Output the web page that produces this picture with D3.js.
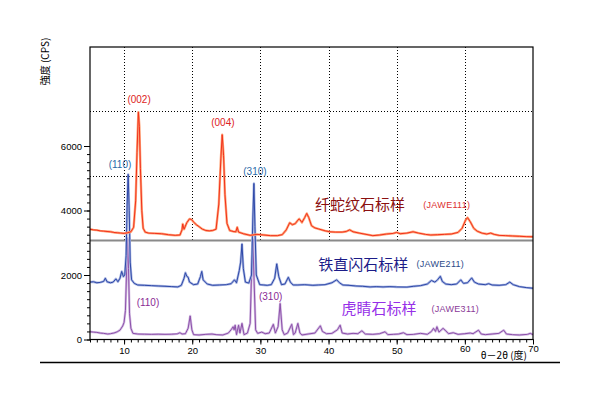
<!DOCTYPE html>
<html><head><meta charset="utf-8">
<script src="https://cdn.jsdelivr.net/npm/d3@7"></script>
<style>body{margin:0;background:#fff}</style>
</head><body><svg id="c" width="600" height="400"></svg>
<script>
// 2θ (deg) vs intensity (CPS), offset traces as plotted
const chrysotile = [[5.0,3420],[5.5,3400],[6,3390],[6.5,3370],[7,3360],[7.5,3350],[8,3340],[8.5,3320],[9,3310],[9.5,3300],[10,3290],[10.5,3310],[11,3340],[11.4,3480],[11.7,4300],[11.9,5800],[12.1,7050],[12.25,6600],[12.4,5300],[12.6,4000],[12.8,3450],[13.1,3330],[13.6,3300],[14.5,3290],[15.5,3280],[16.5,3250],[17.5,3230],[18.2,3240],[18.5,3400],[18.6,3580],[18.8,3420],[19.2,3620],[19.6,3740],[19.9,3720],[20.2,3640],[20.6,3560],[21,3500],[21.5,3420],[22,3380],[22.5,3370],[23,3380],[23.5,3420],[23.9,4200],[24.2,5600],[24.4,6350],[24.6,5700],[24.8,4500],[25.1,3600],[25.5,3380],[26,3350],[26.4,3340],[26.6,3480],[26.8,3330],[27.5,3280],[28.5,3230],[29.5,3260],[30.5,3240],[31.5,3220],[32.5,3220],[33.2,3250],[33.8,3400],[34.3,3620],[34.7,3560],[35.1,3590],[35.5,3700],[35.7,3740],[36.1,3630],[36.5,3780],[36.8,3910],[37.1,3780],[37.5,3530],[38,3460],[38.5,3430],[39.5,3370],[40.2,3340],[41,3330],[42,3330],[42.6,3350],[43.1,3400],[43.6,3340],[44.5,3300],[45.5,3260],[46.5,3220],[47.5,3240],[48.5,3270],[49.5,3290],[50,3320],[50.5,3280],[51.5,3300],[52.4,3340],[53.2,3300],[54.2,3260],[55,3240],[56,3250],[57,3260],[58,3270],[59,3320],[59.6,3450],[60.1,3700],[60.4,3780],[60.8,3650],[61.3,3450],[61.8,3360],[62.5,3300],[63.2,3270],[63.8,3300],[64.3,3260],[65,3230],[66,3220],[67,3210],[68,3200],[69,3190],[70,3185]];

const anthophyllite = [[5,1780],[5.5,1790],[6,1760],[6.5,1770],[7,1800],[7.25,1900],[7.5,1790],[8,1760],[8.4,1780],[8.8,1880],[9.1,1790],[9.4,1900],[9.65,2110],[9.9,1950],[10.1,2000],[10.3,2600],[10.45,4200],[10.6,5120],[10.75,4000],[10.9,2400],[11.1,1850],[11.5,1740],[12,1690],[13,1680],[14,1670],[15,1660],[16,1650],[17,1640],[17.9,1630],[18.4,1680],[18.8,1900],[19.0,2070],[19.2,1960],[19.4,1930],[19.6,1780],[20.2,1700],[20.8,1720],[21.2,1950],[21.4,2110],[21.6,1850],[22.2,1720],[23,1680],[24,1690],[25,1700],[25.7,1730],[26.2,1850],[26.5,1760],[26.9,2140],[27.1,2400],[27.3,2960],[27.5,2200],[27.8,1780],[28.3,1750],[28.7,2000],[28.9,3800],[29.05,4840],[29.2,3500],[29.4,2000],[29.9,1700],[30.5,1690],[31,1680],[31.6,1700],[32.1,1900],[32.4,2345],[32.7,1950],[33.1,1700],[33.6,1720],[34.1,1930],[34.4,1780],[34.8,1690],[35.5,1690],[36.5,1700],[37.7,1680],[38.5,1690],[39.5,1700],[40.5,1760],[41.2,1850],[41.6,1760],[42.1,1690],[43,1680],[44,1660],[45,1650],[46.1,1630],[47,1640],[48,1630],[49,1640],[50,1630],[51.5,1625],[52.5,1650],[53.5,1670],[54.5,1720],[55.1,1830],[55.6,1780],[56.0,1850],[56.4,1960],[56.7,1800],[57.2,1720],[58,1700],[58.8,1720],[59.4,1850],[59.8,1740],[60.4,1760],[61.0,1910],[61.4,1780],[62,1720],[63,1700],[63.5,1730],[64,1690],[65,1680],[66,1700],[66.6,1780],[67.1,1700],[68,1640],[69,1610],[70,1590]];

const tigerEye = [[5,240],[5.5,230],[6,220],[6.5,200],[7,190],[7.6,170],[8,180],[8.5,200],[9,240],[9.4,290],[9.8,420],[10.0,530],[10.2,900],[10.35,2000],[10.5,3150],[10.65,2200],[10.8,800],[11,350],[11.3,190],[12,170],[13,165],[14,160],[15,165],[16,160],[17,165],[17.8,175],[18.2,210],[18.5,170],[19,180],[19.4,350],[19.7,730],[19.95,300],[20.2,150],[21,140],[22,160],[22.9,170],[23.5,150],[24.5,140],[25.3,200],[25.7,300],[26.0,395],[26.15,300],[26.3,445],[26.5,150],[26.8,445],[27.0,200],[27.3,500],[27.6,150],[28.1,200],[28.5,500],[28.75,2400],[28.9,3100],[29.05,2000],[29.3,300],[29.6,190],[30.2,230],[30.7,180],[31.3,200],[31.9,470],[32.2,200],[32.6,400],[32.9,1115],[33.2,300],[33.5,150],[34,200],[34.6,470],[34.85,150],[35.1,200],[35.5,500],[35.8,200],[36.1,140],[37,170],[38,200],[38.8,425],[39.1,250],[39.7,180],[40.5,190],[41.3,300],[41.7,445],[42,200],[42.8,170],[43.6,190],[44.3,180],[44.9,270],[45.4,170],[46.5,160],[47.5,180],[48.3,240],[48.7,150],[49.5,160],[50.3,170],[51,210],[51.5,150],[52.5,160],[53.5,190],[54.5,160],[55.1,250],[55.4,345],[55.7,250],[55.9,395],[56.2,230],[56.8,345],[57.1,290],[57.6,180],[58.3,210],[59,160],[60,180],[60.8,200],[61.2,180],[62,290],[62.4,170],[63,150],[64,170],[65,190],[65.7,290],[66.1,170],[67,150],[68,140],[69.2,160],[69.6,190],[70,150]];

const xMajorTicks = [10,20,30,40,50,60,70];
const yMajorTicks = [0,2000,4000,6000];
const separatorLevel = 3070;
const gridLevels = [5070,7070];

// annotations: [text, 2θ, intensity, colour]
const peakLabels = [["(002)",12.2,7330,"#dd2222"],["(004)",24.5,6620,"#dd2222"],["(110)",9.4,5320,"#2a6aa8"],["(310)",29.2,5100,"#2a6aa8"],["(110)",13.5,1040,"#8a2a95"],["(310)",31.5,1225,"#8a2a95"]];
const sampleNames = [["纤蛇纹石标样",38.0,4016,"#8b1010"],["铁直闪石标样",38.5,2155,"#1c1c88"],["虎睛石标样",41.9,790,"#9630e8"]];
const sampleCodes = [["(JAWE111)",53.9,4078,"#dd3030"],["(JAWE211)",52.9,2248,"#2a4a88"],["(JAWE311)",55.1,868,"#8a3a98"]];

const svg = d3.select("#c");
const x = d3.scaleLinear().domain([5,70]).range([90,533]);
const y = d3.scaleLinear().domain([0,9070]).range([339.5,47]);

// dotted grid (upper part)
const g = svg.append("g").attr("stroke","#000").attr("stroke-dasharray","1,2").attr("stroke-width",1);
g.selectAll("line.v").data(xMajorTicks.slice(0,-1)).join("line")
  .attr("x1",d=>Math.round(x(d))+0.5).attr("x2",d=>Math.round(x(d))+0.5)
  .attr("y1",y(9070)).attr("y2",y(separatorLevel));
g.selectAll("line.h").data(gridLevels).join("line")
  .attr("x1",x(5)).attr("x2",x(70))
  .attr("y1",d=>Math.round(y(d))+0.5).attr("y2",d=>Math.round(y(d))+0.5);

svg.append("line").attr("x1",x(5)).attr("x2",x(70))
  .attr("y1",y(separatorLevel)).attr("y2",y(separatorLevel))
  .attr("stroke","#8a8a8a").attr("stroke-width",2);

const line = d3.line().x(d=>x(d[0])).y(d=>y(d[1]));
function trace(data, under, over){
  svg.append("path").datum(data).attr("d",line).attr("fill","none")
    .attr("stroke",under).attr("stroke-width",2.4).attr("stroke-linejoin","round");
  svg.append("path").datum(data).attr("d",line).attr("fill","none")
    .attr("stroke",over).attr("stroke-width",1).attr("stroke-linejoin","round");
}
trace(tigerEye,"#d3bce2","#8c50aa");
trace(anthophyllite,"#a9b6e2","#2e48a8");
trace(chrysotile,"#ffa57a","#f2321c");

// axes
const fontNum = "'Liberation Sans', Arial, sans-serif";
svg.append("g").attr("transform",`translate(0,${y(0)})`)
  .call(d3.axisBottom(x).tickValues(d3.range(5,71,1)).tickSize(3).tickFormat(""));
const xMajor = svg.append("g").attr("transform",`translate(0,${y(0)})`)
  .call(d3.axisBottom(x).tickValues(xMajorTicks).tickSize(5).tickPadding(3).tickFormat(d3.format("d")));
xMajor.selectAll("text").attr("font-family",fontNum).attr("font-size",9.5).attr("fill","#000")
  .attr("dy",d=> d>=60 ? "0.45em" : "0.71em");
svg.append("g").attr("transform",`translate(${x(5)},0)`)
  .call(d3.axisLeft(y).tickValues(d3.range(0,6001,250)).tickSize(3).tickFormat("").tickSizeOuter(0));
const yMajor = svg.append("g").attr("transform",`translate(${x(5)},0)`)
  .call(d3.axisLeft(y).tickValues(yMajorTicks).tickSize(6).tickPadding(2).tickSizeOuter(0).tickFormat(d3.format("d")));
yMajor.selectAll("text").attr("font-family",fontNum).attr("font-size",9.5).attr("fill","#000");
svg.selectAll(".domain").remove();

// frame
svg.append("rect").attr("x",x(5)).attr("y",y(9070)).attr("width",x(70)-x(5)).attr("height",y(0)-y(9070))
  .attr("fill","none").attr("stroke","#000").attr("stroke-width",1.2);

svg.append("text").attr("x",x(70)-6).attr("y",y(0)+19).attr("text-anchor","end")
  .attr("font-family","'Noto Sans CJK JP', sans-serif").attr("font-size",10).text("θ－2θ (度)");

svg.append("text").attr("transform",`translate(49,${y(0)-278}) rotate(-90)`).attr("text-anchor","middle")
  .attr("font-family","'Noto Sans CJK JP', sans-serif").attr("font-size",10).text("強度 (CPS)");

// bottom separator
svg.append("line").attr("x1",40).attr("x2",560).attr("y1",362.5).attr("y2",362.5)
  .attr("stroke","#000").attr("stroke-width",1.5);

// labels
svg.selectAll("text.pk").data(peakLabels).join("text").attr("class","pk")
  .attr("x",d=>x(d[1])).attr("y",d=>y(d[2])).attr("text-anchor","middle")
  .attr("font-family",fontNum).attr("font-size",10).attr("fill",d=>d[3]).text(d=>d[0]);
svg.selectAll("text.nm").data(sampleNames).join("text").attr("class","nm")
  .attr("x",d=>x(d[1])).attr("y",d=>y(d[2]))
  .attr("font-family","'Noto Sans CJK SC', sans-serif").attr("font-size",15).attr("fill",d=>d[3]).text(d=>d[0]);
svg.selectAll("text.cd").data(sampleCodes).join("text").attr("class","cd")
  .attr("x",d=>x(d[1])).attr("y",d=>y(d[2]))
  .attr("font-family",fontNum).attr("font-size",9).attr("letter-spacing",0.3).attr("fill",d=>d[3]).text(d=>d[0]);
</script>
</body></html>
